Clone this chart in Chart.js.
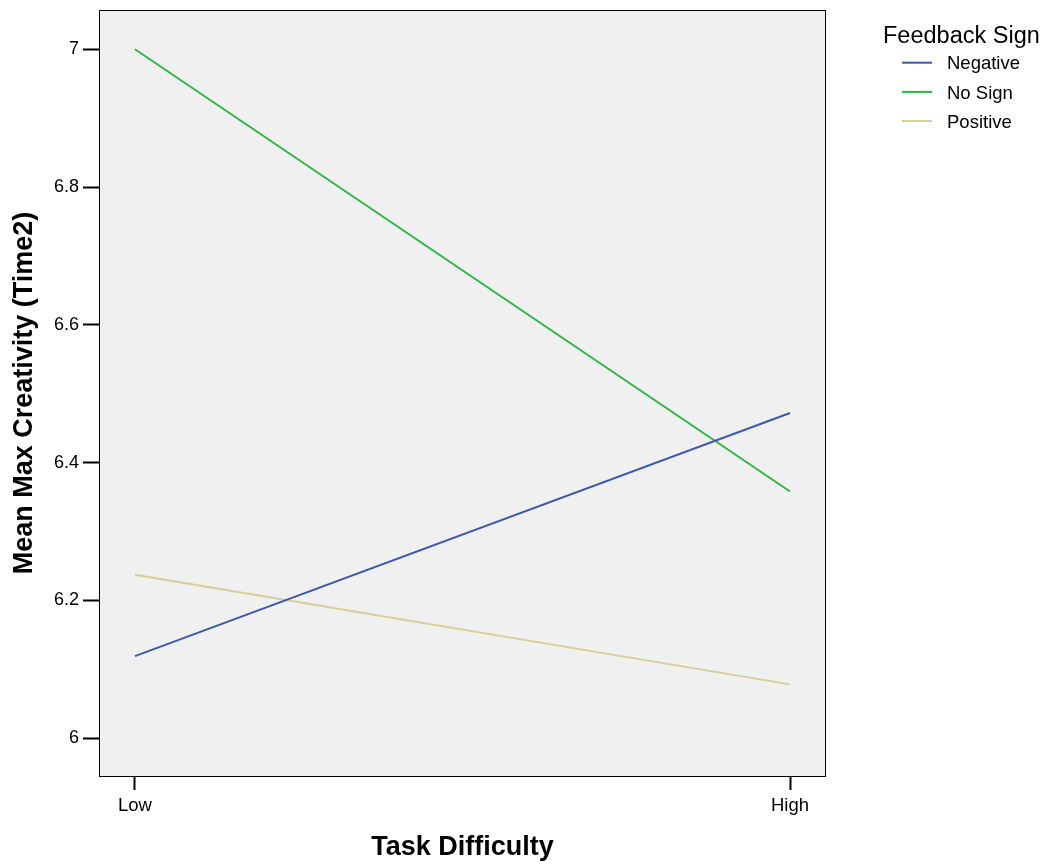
<!DOCTYPE html>
<html>
<head>
<meta charset="utf-8">
<script src="https://cdn.jsdelivr.net/npm/chart.js@4/dist/chart.umd.min.js"></script>
<style>
  html, body { margin: 0; padding: 0; background: #ffffff; }
  #wrap { width: 1052px; height: 867px; position: relative; }
</style>
</head>
<body>
<div id="wrap"><canvas id="c" width="1052" height="867"></canvas></div>
<script>
// Task difficulty levels (x positions 0 and 1)
const categories = ['Low', 'High'];
// Mean max creativity (Time2) per feedback sign
const negativeValues = [6.119, 6.472];
const noSignValues = [7.0, 6.358];
const positiveValues = [6.237, 6.078];
const seriesNames = ['Negative', 'No Sign', 'Positive'];
const yTickValues = [6, 6.2, 6.4, 6.6, 6.8, 7];
const seriesColors = ['#3e58ac', '#2bb744', '#d4cf96'];

const FONT = '"Liberation Sans", Arial, sans-serif';

function toPoints(values) {
  return values.map((v, i) => ({ x: i, y: v }));
}

const seriesValues = [negativeValues, noSignValues, positiveValues];
const datasets = seriesNames.map((name, i) => ({
  label: name,
  data: toPoints(seriesValues[i]),
  borderColor: seriesColors[i],
  backgroundColor: seriesColors[i],
  borderWidth: 2,
  pointRadius: 0,
  tension: 0,
  fill: false
}));

// Grey plot background and black frame
const framePlugin = {
  id: 'frame',
  beforeDraw(chart) {
    const { ctx, chartArea: a } = chart;
    ctx.save();
    ctx.fillStyle = '#f0f0f0';
    ctx.fillRect(a.left, a.top, a.right - a.left, a.bottom - a.top);
    ctx.restore();
  },
  afterDatasetsDraw(chart) {
    const { ctx, chartArea: a } = chart;
    ctx.save();
    ctx.strokeStyle = '#000000';
    ctx.lineWidth = 1;
    ctx.strokeRect(a.left + 0.5, a.top + 0.5, a.right - a.left - 1, a.bottom - a.top);
    ctx.restore();
  }
};

// Legend at the right with its title
const legendPlugin = {
  id: 'sideLegend',
  afterDraw(chart) {
    const { ctx } = chart;
    ctx.save();
    ctx.fillStyle = '#000000';
    ctx.textBaseline = 'alphabetic';
    ctx.textAlign = 'left';
    ctx.font = '23.5px ' + FONT;
    ctx.fillText('Feedback Sign', 883, 43);
    ctx.font = '18.5px ' + FONT;
    chart.data.datasets.forEach((ds, i) => {
      const y = 62.7 + i * 29.2;
      ctx.strokeStyle = ds.borderColor;
      ctx.lineWidth = 2;
      ctx.beginPath();
      ctx.moveTo(902, y);
      ctx.lineTo(932, y);
      ctx.stroke();
      ctx.fillText(ds.label, 947, y + 6.6);
    });
    ctx.restore();
  }
};

new Chart(document.getElementById('c'), {
  type: 'line',
  data: { datasets },
  plugins: [framePlugin, legendPlugin],
  options: {
    responsive: false,
    animation: false,
    devicePixelRatio: 1,
    layout: { padding: { top: 10, right: 226, bottom: 0, left: 0 } },
    plugins: { legend: { display: false }, tooltip: { enabled: false } },
    scales: {
      x: {
        type: 'linear',
        min: -0.0549,
        max: 1.0549,
        afterBuildTicks(scale) {
          scale.ticks = categories.map((c, i) => ({ value: i }));
        },
        afterFit(scale) {
          scale.height = 91;
          scale.paddingLeft = 0;
          scale.paddingRight = 0;
        },
        border: { display: false },
        grid: { drawOnChartArea: false, drawTicks: true, tickLength: 14, tickWidth: 2, tickColor: '#000000' },
        ticks: {
          color: '#000000',
          font: { family: FONT, size: 18.5 },
          padding: 5,
          maxRotation: 0,
          callback: (v) => categories[v] !== undefined ? categories[v] : ''
        },
        title: {
          display: true,
          text: 'Task Difficulty',
          color: '#000000',
          font: { family: FONT, size: 27, weight: 'bold' },
          padding: { top: 10, bottom: 3 }
        }
      },
      y: {
        type: 'linear',
        min: 5.945,
        max: 7.057,
        afterBuildTicks(scale) {
          scale.ticks = yTickValues.map(v => ({ value: v }));
        },
        afterFit(scale) {
          scale.width = 99;
          scale.paddingTop = 0;
          scale.paddingBottom = 0;
        },
        border: { display: false },
        grid: { drawOnChartArea: false, drawTicks: true, tickLength: 16, tickWidth: 2, tickColor: '#000000' },
        ticks: {
          color: '#000000',
          font: { family: FONT, size: 18 },
          padding: 4,
          callback: (v) => String(Math.round(v * 10) / 10)
        },
        title: {
          display: true,
          text: 'Mean Max Creativity (Time2)',
          color: '#000000',
          font: { family: FONT, size: 27, weight: 'bold' },
          padding: { top: 8, bottom: 8 }
        }
      }
    }
  }
});
</script>
</body>
</html>
